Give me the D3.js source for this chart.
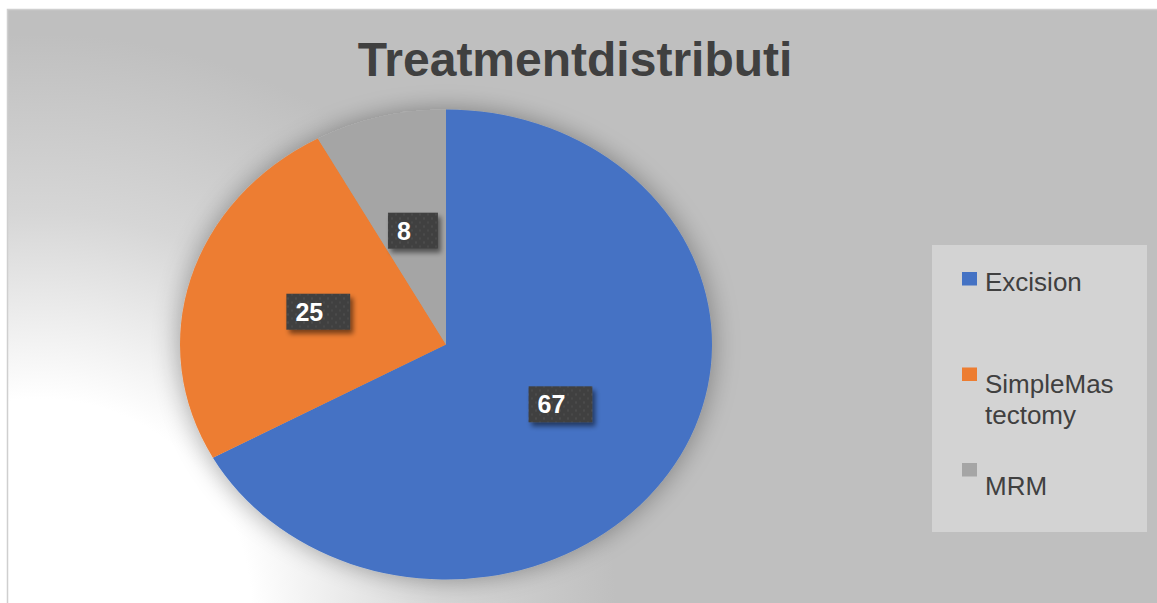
<!DOCTYPE html>
<html>
<head>
<meta charset="utf-8">
<script src="https://cdn.jsdelivr.net/npm/d3@7"></script>
<style>
  body { margin: 0; background: #fff; }
  svg { display: block; font-family: "Liberation Sans", Arial, sans-serif; }
</style>
</head>
<body>
<div id="chart"></div>
<script>
// data
var categories = ["Excision", "SimpleMastectomy", "MRM"];
var values = [67, 25, 8];
var legendLines = [["Excision"], ["SimpleMas", "tectomy"], ["MRM"]];
var colors = ["#4472C4", "#ED7D31", "#A5A5A5"];
var title = "Treatmentdistributi";

var W = 1157, H = 603;

var svg = d3.select("#chart").append("svg")
    .attr("width", W)
    .attr("height", H);

var defs = svg.append("defs");

// background: grey with a white glow in the lower left
var bg = defs.append("radialGradient")
    .attr("id", "bgGrad")
    .attr("gradientUnits", "userSpaceOnUse")
    .attr("cx", 40).attr("cy", 610).attr("r", 640);
bg.append("stop").attr("offset", "0").attr("stop-color", "#ffffff");
bg.append("stop").attr("offset", "0.33").attr("stop-color", "#ffffff");
bg.append("stop").attr("offset", "0.62").attr("stop-color", "#d6d6d6");
bg.append("stop").attr("offset", "0.9").attr("stop-color", "#bfbfbf");
bg.append("stop").attr("offset", "1").attr("stop-color", "#bfbfbf");

// soft shadow around the pie
var pieShadow = defs.append("filter")
    .attr("id", "pieShadow")
    .attr("x", "-30%").attr("y", "-30%").attr("width", "160%").attr("height", "160%");
pieShadow.append("feGaussianBlur").attr("in", "SourceAlpha").attr("stdDeviation", 14).attr("result", "blur");
pieShadow.append("feComponentTransfer").attr("in", "blur").attr("result", "soft")
    .append("feFuncA").attr("type", "linear").attr("slope", 0.35);
var m1 = pieShadow.append("feMerge");
m1.append("feMergeNode").attr("in", "soft");
m1.append("feMergeNode").attr("in", "SourceGraphic");

// label box shadow
var boxShadow = defs.append("filter")
    .attr("id", "boxShadow")
    .attr("x", "-30%").attr("y", "-40%").attr("width", "170%").attr("height", "190%");
boxShadow.append("feGaussianBlur").attr("in", "SourceAlpha").attr("stdDeviation", 2.5).attr("result", "b");
boxShadow.append("feOffset").attr("in", "b").attr("dx", 3).attr("dy", 4).attr("result", "o");
boxShadow.append("feComponentTransfer").attr("in", "o").attr("result", "os")
    .append("feFuncA").attr("type", "linear").attr("slope", 0.5);
var m2 = boxShadow.append("feMerge");
m2.append("feMergeNode").attr("in", "os");
m2.append("feMergeNode").attr("in", "SourceGraphic");

// dotted texture for the label boxes
var pat = defs.append("pattern")
    .attr("id", "dots")
    .attr("patternUnits", "userSpaceOnUse")
    .attr("width", 8).attr("height", 8);
pat.append("rect").attr("width", 8).attr("height", 8).attr("fill", "#404040");
pat.append("circle").attr("cx", 2).attr("cy", 2).attr("r", 1.1).attr("fill", "#4d4d4d");
pat.append("circle").attr("cx", 6).attr("cy", 6).attr("r", 1.1).attr("fill", "#4a4a4a");

// chart area
svg.append("rect")
    .attr("x", 7.5).attr("y", 9.5)
    .attr("width", W).attr("height", H)
    .attr("fill", "url(#bgGrad)")
    .attr("stroke", "#cfcfcf")
    .attr("stroke-width", 1.5);

svg.append("text")
    .attr("x", 575)
    .attr("y", 76)
    .attr("text-anchor", "middle")
    .style("font-size", "48px")
    .style("font-weight", "bold")
    .style("fill", "#404040")
    .text(title);

// pie (stretched into an ellipse like the original)
var cx = 446, cy = 344.5, rx = 266, ry = 235;

var pie = d3.pie().sort(null).value(function(d) { return d; });
var arcs = pie(values);

var arc = d3.arc().innerRadius(0).outerRadius(rx);

var pieG = svg.append("g")
    .attr("transform", "translate(" + cx + "," + cy + ") scale(1," + (ry / rx) + ")");

var slices = pieG.append("g").attr("filter", "url(#pieShadow)");
slices.selectAll("path")
    .data(arcs)
    .enter()
    .append("path")
    .attr("d", arc)
    .attr("fill", function(d, i) { return colors[i]; });

// data labels
var labelG = svg.append("g").attr("transform", "translate(" + cx + "," + cy + ")");
var boxH = 36;

labelG.selectAll("g.lbl")
    .data(arcs)
    .enter()
    .append("g")
    .attr("class", "lbl")
    .each(function(d, i) {
        var c = arc.centroid(d);
        var px = c[0], py = c[1] * ry / rx;
        var g = d3.select(this);
        var t = g.append("text")
            .style("font-size", "25px")
            .style("font-weight", "bold")
            .style("fill", "#ffffff")
            .text(values[i]);
        var tw = t.node().getComputedTextLength();
        var bw = tw + 36;
        g.insert("rect", "text")
            .attr("x", px - bw / 2)
            .attr("y", py - boxH / 2)
            .attr("width", bw)
            .attr("height", boxH)
            .attr("fill", "url(#dots)")
            .attr("filter", "url(#boxShadow)");
        t.attr("x", px - bw / 2 + 9)
            .attr("y", py + 9);
    });

// legend
var lx = 932, ly = 245, lw = 215, lh = 287;
var legend = svg.append("g");
legend.append("rect")
    .attr("x", lx).attr("y", ly)
    .attr("width", lw).attr("height", lh)
    .attr("fill", "#d3d3d3");

var slot = d3.scaleLinear().domain([0, categories.length - 1]).range([ly + 27, ly + 218]);

var items = legend.selectAll("g.item")
    .data(categories)
    .enter()
    .append("g")
    .attr("class", "item");

items.append("rect")
    .attr("x", lx + 30)
    .attr("y", function(d, i) { return slot(i); })
    .attr("width", 15)
    .attr("height", 13.5)
    .attr("fill", function(d, i) { return colors[i]; });

items.append("text")
    .attr("x", lx + 53)
    .attr("y", function(d, i) { return slot(i) + 19 + i * 6.5; })
    .style("font-size", "26px")
    .style("fill", "#404040")
    .each(function(d, i) {
        var el = d3.select(this);
        legendLines[i].forEach(function(line, k) {
            el.append("tspan")
                .attr("x", lx + 53)
                .attr("dy", k === 0 ? 0 : 31)
                .text(line);
        });
    });
</script>
</body>
</html>
